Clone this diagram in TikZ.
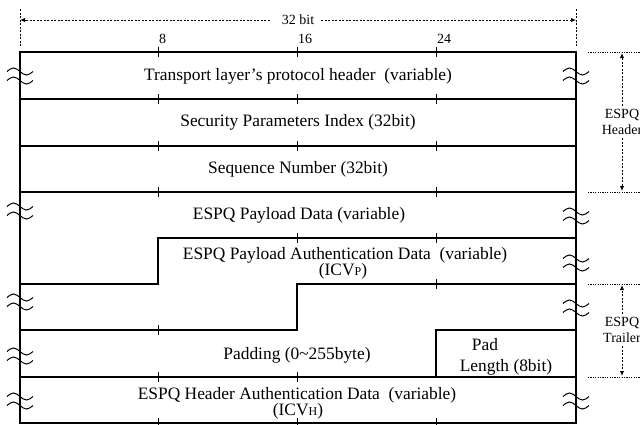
\documentclass[tikz,border=0pt]{standalone}
\usepackage{fontspec}
\setmainfont{Liberation Serif}
\usetikzlibrary{arrows.meta}
\begin{document}
\begin{tikzpicture}[x=1pt,y=-1pt,
  box/.style={line width=1.8pt},
  tickmark/.style={line width=0.9pt},
  dimline/.style={line width=0.9pt, dash pattern=on 2pt off 1.5pt},
  dotline/.style={line width=0.9pt, dash pattern=on 1.2pt off 1.2pt},
  dimarrow/.style={dimline, -{Latex[length=5pt,width=4.5pt]}},
  lbl/.style={font=\fontsize{17.4}{20}\selectfont, inner sep=0pt},
  smalllbl/.style={font=\fontsize{14}{16}\selectfont, inner sep=1pt},
  sidelbl/.style={font=\fontsize{14}{16.5}\selectfont, inner sep=3pt, align=center},
  brk/.pic={
    \draw[line width=1pt] (-13,-4.5) sin (-6.5,-8) cos (0,-4.5) sin (6.5,-1) cos (13,-4.5);
    \draw[line width=1pt] (-13,4.5) sin (-6.5,1) cos (0,4.5) sin (6.5,8) cos (13,4.5);
  }
]
\useasboundingbox (0,0) rectangle (640,424);
\clip (0,0) rectangle (640,424);

% ---- top dimension ----
\coordinate (dl) at (20,20);
\coordinate (dr) at (576,20);
\draw[dimline] (20,9) -- (20,46);
\draw[dimline] (576,9) -- (576,46);
\node[smalllbl, inner sep=0pt] (w32) at (298,20) {32 bit};
\draw[dimarrow, shorten <=12pt] (w32.west) -- (dl);
\draw[dimarrow, shorten <=7pt] (w32.east) -- (dr);
\node[smalllbl, anchor=west] (n8) at (158,39) {8};
\node[smalllbl, anchor=west] (n16) at (297,39) {16};
\node[smalllbl, anchor=west] (n24) at (436,39) {24};

% ---- ticks ----
\foreach \y in {52,99,146,423} {
  \foreach \x in {158,297,436} \draw[tickmark] (\x,\y-5) -- (\x,\y+5);
}
\foreach \x in {158,436} \draw[tickmark] (\x,187) -- (\x,197);
\foreach \x in {297,436} \draw[tickmark] (\x,233) -- (\x,243);
\draw[tickmark] (436,279) -- (436,289);
\draw[tickmark] (158,325) -- (158,335);
\foreach \x in {158,297} \draw[tickmark] (\x,372) -- (\x,382);

% ---- frame ----
\draw[box] (20,52) rectangle (576,423);
\foreach \y in {99,146,192,377} \draw[box] (20,\y) -- (576,\y);
\draw[box] (576,238) -- (158,238) -- (158,284) -- (20,284);
\draw[box] (576,284) -- (297,284) -- (297,330) -- (20,330);
\draw[box] (576,330) -- (436,330) -- (436,377);

% ---- breaks ----
\foreach \y in {76,211,302,356,401} \pic at (20,\y) {brk};
\foreach \y in {76,216,263,308,401} \pic at (576,\y) {brk};

% ---- field labels ----
\node[lbl] (f1) at (298,76) {Transport layer’s protocol header\enspace(variable)};
\node[lbl] (f2) at (298,122) {Security Parameters Index (32bit)};
\node[lbl] (f3) at (298,169) {Sequence Number (32bit)};
\node[lbl] (f4) at (299,215) {ESPQ Payload Data (variable)};
\node[lbl] (f5) at (345,255) {ESPQ Payload Authentication Data\enspace(variable)};
\node[lbl] (f5b) at (343,271) {(ICV{\fontsize{12}{12}\selectfont P})};
\node[lbl] (f7) at (297,355) {Padding (0\textasciitilde255byte)};
\node[lbl] (f7a) at (485,345) {Pad};
\node[lbl] (f7b) at (506,367) {Length (8bit)};
\node[lbl] (f8) at (297,395) {ESPQ Header Authentication Data\enspace(variable)};
\node[lbl] (f8b) at (298,411) {(ICV{\fontsize{12}{12}\selectfont H})};

% ---- right side brackets ----
\foreach \y in {52,192,284,377} \draw[dotline] (588,\y) -- (640,\y);
\coordinate (ht) at (622,53);
\coordinate (hb) at (622,191);
\coordinate (tt) at (622,285);
\coordinate (tb) at (622,376);
\node[sidelbl] (hdr) at (622,122) {ESPQ\\Header};
\node[sidelbl] (trl) at (622,330) {ESPQ\\Trailer};
\draw[dimarrow] (hdr.north) -- (ht);
\draw[dimarrow] (hdr.south) -- (hb);
\draw[dimarrow] (trl.north) -- (tt);
\draw[dimarrow] (trl.south) -- (tb);
\end{tikzpicture}
\end{document}
